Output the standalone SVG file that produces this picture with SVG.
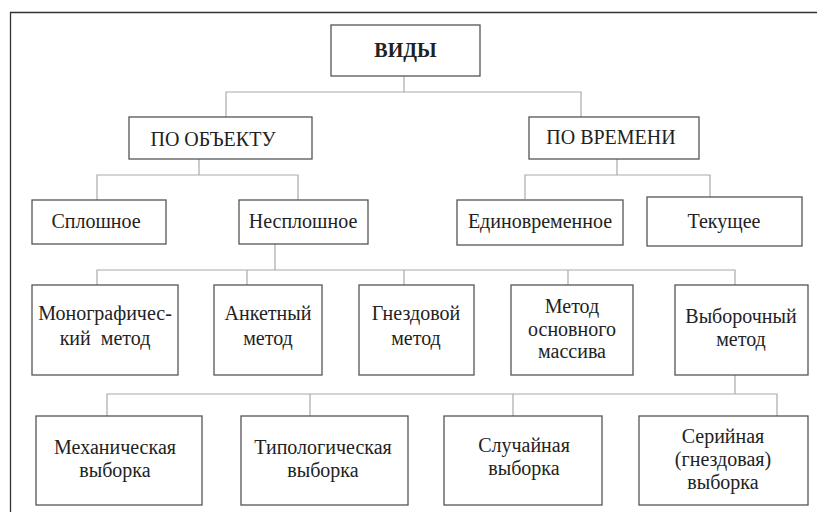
<svg xmlns="http://www.w3.org/2000/svg" width="817" height="512" viewBox="0 0 817 512">
<style>
.box{fill:#fff;stroke:#555;stroke-width:1.3}
.t{font-family:'Liberation Serif','Tinos','DejaVu Serif','Noto Serif','Times New Roman',serif;font-size:20px;fill:#222;text-anchor:middle}
.b{font-weight:bold}
.c{fill:none;stroke:#aaa;stroke-width:1.2}
</style>
<rect width="817" height="512" fill="#fff"/>
<path d="M10.5 512 V12.5 H817" fill="none" stroke="#333" stroke-width="1.3"/>
<g id="connectors" class="c">
<path d="M404 76 V92 M226 117 V92 H581 V117"/>
<path d="M199 159 V175 M97 200 V175 H298 V200"/>
<path d="M617 159 V175 M525 199 V175 H710 V197"/>
<path d="M275 244 V270 M97 285 V270 H735 V285 M247 270 V285 M404 270 V285 M568 270 V285"/>
<path d="M735 375 V394 M107 416 V394 H777 V416 M310 394 V416 M513 394 V416"/>
</g>
<g id="n-vidy"><rect class="box" x="331" y="25" width="149" height="51"/><text class="t b" x="405.5" y="57">ВИДЫ</text></g>
<g id="n-obj"><rect class="box" x="129" y="117" width="183" height="42"/><text class="t" x="213" y="146">ПО ОБЪЕКТУ</text></g>
<g id="n-time"><rect class="box" x="529" y="117" width="170" height="42"/><text class="t" x="611" y="144">ПО ВРЕМЕНИ</text></g>
<g id="n-splosh"><rect class="box" x="32" y="200" width="134" height="44"/><text class="t" x="96" y="228">Сплошное</text></g>
<g id="n-nesplosh"><rect class="box" x="239" y="200" width="129" height="44"/><text class="t" x="303" y="228">Несплошное</text></g>
<g id="n-edin"><rect class="box" x="457" y="200" width="166" height="45"/><text class="t" x="540" y="228">Единовременное</text></g>
<g id="n-tek"><rect class="box" x="647" y="197" width="155" height="49"/><text class="t" x="724" y="228">Текущее</text></g>
<g id="n-mono"><rect class="box" x="32" y="285" width="146" height="90"/><text class="t" x="105" y="320">Монографичес-</text><text class="t" x="105" y="345" xml:space="preserve">кий  метод</text></g>
<g id="n-anket"><rect class="box" x="214" y="285" width="108" height="90"/><text class="t" x="268" y="320">Анкетный</text><text class="t" x="268" y="345">метод</text></g>
<g id="n-gnezd"><rect class="box" x="359" y="285" width="115" height="90"/><text class="t" x="416" y="320">Гнездовой</text><text class="t" x="416" y="345">метод</text></g>
<g id="n-osn"><rect class="box" x="511" y="285" width="122" height="90"/><text class="t" x="572" y="313">Метод</text><text class="t" x="572" y="336">основного</text><text class="t" x="572" y="358">массива</text></g>
<g id="n-vyb"><rect class="box" x="675" y="285" width="133" height="90"/><text class="t" x="741" y="323">Выборочный</text><text class="t" x="741" y="346">метод</text></g>
<g id="n-mech"><rect class="box" x="36" y="416" width="166" height="89"/><text class="t" x="115" y="454">Механическая</text><text class="t" x="115" y="477">выборка</text></g>
<g id="n-tipol"><rect class="box" x="241" y="416" width="167" height="89"/><text class="t" x="323" y="454">Типологическая</text><text class="t" x="323" y="477">выборка</text></g>
<g id="n-sluch"><rect class="box" x="444" y="416" width="158" height="89"/><text class="t" x="524" y="452">Случайная</text><text class="t" x="524" y="475">выборка</text></g>
<g id="n-ser"><rect class="box" x="639" y="416" width="169" height="89"/><text class="t" x="723" y="443">Серийная</text><text class="t" x="723" y="466">(гнездовая)</text><text class="t" x="723" y="489">выборка</text></g>
</svg>
